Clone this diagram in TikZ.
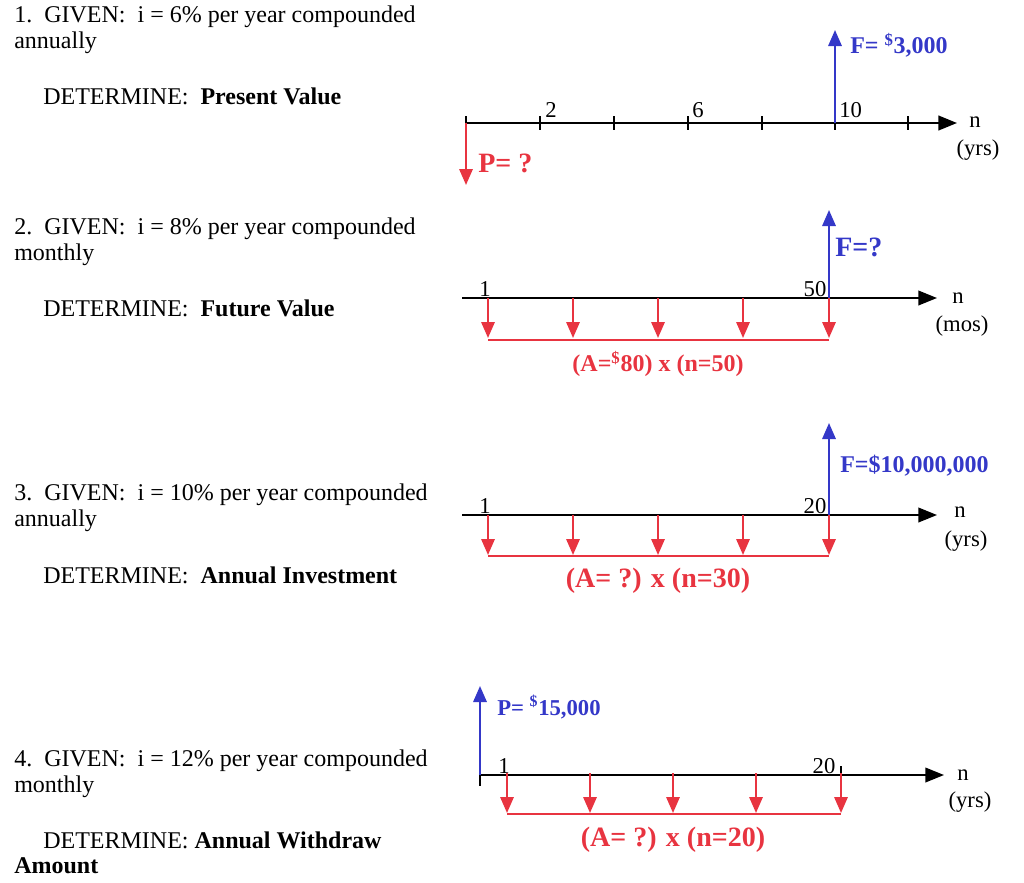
\documentclass[tikz,border=0pt]{standalone}
\usepackage{fontspec}
\setmainfont{Liberation Serif}
\usetikzlibrary{arrows.meta}
\definecolor{myred}{RGB}{232,52,64}
\definecolor{myblue}{RGB}{52,56,200}
\begin{document}
\begin{tikzpicture}[x=0.75pt,y=-0.75pt,
  txt/.style={anchor=west,inner sep=0pt,font=\fontsize{18}{20}\selectfont},
  lab/.style={inner sep=0pt,font=\fontsize{17}{19}\selectfont},
  axis/.style={line width=1.6pt,-{Triangle[length=14pt,width=11pt]}},
  tk/.style={line width=1.6pt},
  rarr/.style={myred,line width=1.6pt,-{Triangle[length=12pt,width=10pt]}},
  barr/.style={myblue,line width=1.6pt,-{Triangle[length=12pt,width=10pt]}},
  rline/.style={myred,line width=1.6pt},
  bl/.style={anchor=west,inner sep=0pt,text=myblue,font=\fontsize{18}{20}\selectfont\bfseries},
  rl/.style={inner sep=0pt,text=myred,font=\fontsize{18}{20}\selectfont\bfseries}]
\useasboundingbox (0,0) rectangle (1024,882);
% left texts
\node[txt] (t1a) at (14,17) {1.\ \ GIVEN:\ \ i = 6\% per year compounded};
\node[txt] (t1b) at (14,43) {annually};
\node[txt] (t1c) at (43,96) {DETERMINE:\ \ \textbf{Present Value}};
\node[txt] (t2a) at (14,229) {2.\ \ GIVEN:\ \ i = 8\% per year compounded};
\node[txt] (t2b) at (14,255) {monthly};
\node[txt] (t2c) at (43,308) {DETERMINE:\ \ \textbf{Future Value}};
\node[txt] (t3a) at (14,495) {3.\ \ GIVEN:\ \ i = 10\% per year compounded};
\node[txt] (t3b) at (14,521) {annually};
\node[txt] (t3c) at (43,575) {DETERMINE:\ \ \textbf{Annual Investment}};
\node[txt] (t4a) at (14,761) {4.\ \ GIVEN:\ \ i = 12\% per year compounded};
\node[txt] (t4b) at (14,787) {monthly};
\node[txt] (t4c) at (43,840) {DETERMINE: \textbf{Annual Withdraw}};
\node[txt] (t4d) at (14,866) {\textbf{Amount}};
% diagram 1
\coordinate (a1s) at (466,123); \coordinate (a1e) at (957,123);
\draw[axis] (a1s) -- (a1e);
\foreach \x in {466,540,614,688,762,835,908} \draw[tk] (\x,116) -- (\x,130);
\node[lab,anchor=south west] (l12) at (545,118) {2};
\node[lab,anchor=south west] (l16) at (692,118) {6};
\node[lab,anchor=south west] (l110) at (839,118) {10};
\coordinate (f1) at (835,30);
\draw[barr] (835,123) -- (f1);
\node[bl] (F1) at (850,45) {F= \textsuperscript{\$}3,000};
\coordinate (p1) at (466,185);
\draw[rarr] (466,123) -- (p1);
\node[rl,anchor=west,font=\fontsize{21}{23}\selectfont\bfseries] (P1) at (478,163) {P= ?};
\node[lab] (n1) at (975,122) {n};
\node[lab] (y1) at (978,150) {(yrs)};
% diagram 2
\coordinate (a2s) at (462,298); \coordinate (a2e) at (937,298);
\draw[axis,line width=1.3pt] (a2s) -- (a2e);
\foreach \x in {488,573,658,743,829} \draw[rarr] (\x,298) -- (\x,338);
\draw[rline] (488,340) -- (829,340);
\node[rl] (A2) at (658,364) {(A=\textsuperscript{\$}80) x (n=50)};
\draw[barr] (829,298) -- (829,210);
\node[bl,font=\fontsize{21}{23}\selectfont\bfseries] (F2) at (835,247) {F=?};
\node[lab,anchor=south] (l21) at (485,297) {1};
\node[lab,anchor=south] (l250) at (815,297) {50};
\node[lab] (n2) at (958,298) {n};
\node[lab] (y2) at (962,326) {(mos)};
% diagram 3
\draw[axis,line width=1.3pt] (462,515) -- (937,515);
\foreach \x in {488,573,658,743,829} \draw[rarr] (\x,515) -- (\x,555);
\draw[rline] (488,556) -- (829,556);
\node[rl,font=\fontsize{21}{23}\selectfont\bfseries] (A3) at (658,581) {(A= ?) x (n=30)};
\draw[barr] (829,515) -- (829,423);
\node[bl] (F3) at (840,466) {F=\$10,000,000};
\node[lab,anchor=south] (l31) at (485,514) {1};
\node[lab,anchor=south] (l320) at (815,514) {20};
\node[lab] (n3) at (960,512) {n};
\node[lab] (y3) at (966,541) {(yrs)};
% diagram 4
\draw[axis,line width=1.3pt] (480,775) -- (944,775);
\draw[tk] (480,766) -- (480,786);
\draw[tk] (841,766) -- (841,786);
\draw[barr] (480,775) -- (480,686);
\node[bl,font=\fontsize{17}{19}\selectfont\bfseries] (P4) at (497,707) {P= \textsuperscript{\$}15,000};
\foreach \x in {507,590,673,756,841} \draw[rarr] (\x,773) -- (\x,813);
\draw[rline] (507,814) -- (841,814);
\node[rl,font=\fontsize{21}{23}\selectfont\bfseries] (A4) at (673,840) {(A= ?) x (n=20)};
\node[lab,anchor=south] (l41) at (504,774) {1};
\node[lab,anchor=south] (l420) at (824,774) {20};
\node[lab] (n4) at (963,775) {n};
\node[lab] (y4) at (970,802) {(yrs)};
\end{tikzpicture}
\end{document}
